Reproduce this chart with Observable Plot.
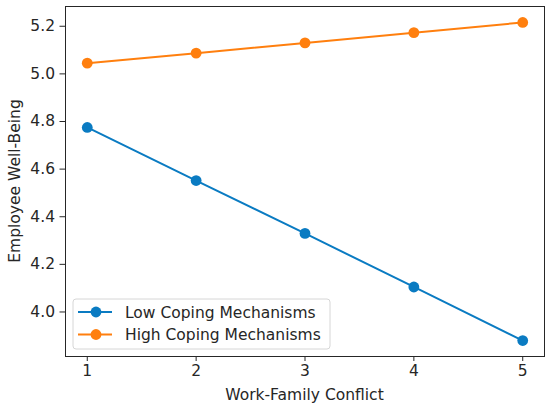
<!DOCTYPE html>
<html>
<head>
<meta charset="utf-8">
<script src="https://cdn.jsdelivr.net/npm/d3@7"></script>
<script src="https://cdn.jsdelivr.net/npm/@observablehq/plot@0.6"></script>
<style>
  html, body { margin: 0; padding: 0; background: #fff; }
  #chart svg { display: block; }
</style>
</head>
<body>
<div id="chart"></div>
<script>
const conflict = [1, 2, 3, 4, 5];
const lowCoping = [4.775, 4.552, 4.330, 4.105, 3.880];
const highCoping = [5.045, 5.087, 5.130, 5.173, 5.216];
const seriesNames = ["Low Coping Mechanisms", "High Coping Mechanisms"];
const seriesColors = ["#0a7bc2", "#ff7f0e"];
const yTicks = [4.0, 4.2, 4.4, 4.6, 4.8, 5.0, 5.2];
const xTicks = [1, 2, 3, 4, 5];

const data = [];
conflict.forEach((x, i) => data.push({x, y: lowCoping[i], s: seriesNames[0]}));
conflict.forEach((x, i) => data.push({x, y: highCoping[i], s: seriesNames[1]}));

const font = "DejaVu Sans, sans-serif";
const ink = "#262626";
const fs = 15.5;

const plot = Plot.plot({
  width: 550,
  height: 409,
  marginLeft: 65,
  marginRight: 6,
  marginTop: 6,
  marginBottom: 53,
  style: {fontFamily: font, fontSize: fs + "px", color: ink, background: "#fff"},
  x: {domain: [0.8, 5.2]},
  y: {domain: [3.813, 5.283]},
  color: {domain: seriesNames, range: seriesColors},
  marks: [
    Plot.axisX({ticks: xTicks, tickFormat: d3.format("d"), tickSize: 5, tickPadding: 3, label: null, stroke: ink, fontSize: fs}),
    Plot.axisY({ticks: yTicks, tickFormat: d3.format(".1f"), tickSize: 5.5, tickPadding: 5, label: null, stroke: ink, fontSize: fs}),
    Plot.line(data, {x: "x", y: "y", z: "s", stroke: "s", strokeWidth: 2}),
    Plot.dot(data, {x: "x", y: "y", fill: "s", r: 5.4}),
    Plot.frame({stroke: ink, strokeWidth: 1})
  ]
});

document.getElementById("chart").appendChild(plot);

const svg = d3.select(plot);
const xs = plot.scale("x");
const ys = plot.scale("y");
const [x0, x1] = xs.range;
const [yb, yt] = ys.range;

// axis labels
svg.append("text")
  .attr("x", (x0 + x1) / 2).attr("y", 400)
  .attr("text-anchor", "middle")
  .attr("font-family", font).attr("font-size", fs).attr("fill", ink)
  .text("Work-Family Conflict");
svg.append("text")
  .attr("transform", `translate(20,${(yb + yt) / 2}) rotate(-90)`)
  .attr("text-anchor", "middle")
  .attr("font-family", font).attr("font-size", fs).attr("fill", ink)
  .text("Employee Well-Being");

// legend
const lg = svg.append("g").attr("transform", `translate(${x0 + 8},${yb - 57})`);
lg.append("rect")
  .attr("x", 0).attr("y", 0).attr("width", 257).attr("height", 50)
  .attr("rx", 3).attr("fill", "#fff").attr("fill-opacity", 0.8)
  .attr("stroke", "#d6d6d6").attr("stroke-width", 1);
seriesNames.forEach((name, i) => {
  const cy = 13 + i * 22.5;
  lg.append("line").attr("x1", 5).attr("x2", 39).attr("y1", cy).attr("y2", cy)
    .attr("stroke", seriesColors[i]).attr("stroke-width", 2);
  lg.append("circle").attr("cx", 23).attr("cy", cy).attr("r", 5.4).attr("fill", seriesColors[i]);
  lg.append("text").attr("x", 52).attr("y", cy).attr("dy", "0.36em")
    .attr("text-anchor", "start")
    .attr("font-family", font).attr("font-size", fs).attr("fill", ink)
    .text(name);
});
</script>
</body>
</html>
